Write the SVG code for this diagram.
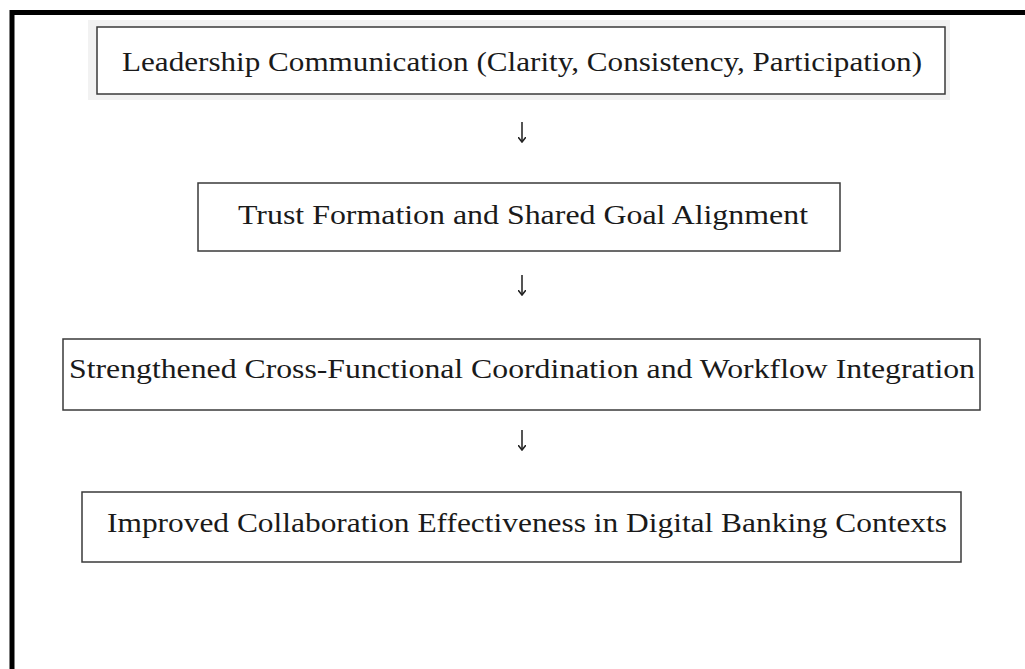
<svg xmlns="http://www.w3.org/2000/svg" width="1025" height="669" viewBox="0 0 1025 669">
<style>
.box{fill:#ffffff;stroke:#3a3a3a;stroke-width:1.5}
.lbl{font-family:"Liberation Serif","Times New Roman",serif;font-size:27px;fill:#1a1a1a}
.arr{stroke:#555555;stroke-width:2;fill:none}
</style>
<defs>
<marker id="ah" markerWidth="6" markerHeight="8" refX="5" refY="4" orient="auto" markerUnits="userSpaceOnUse" viewBox="0 0 6 8">
<path d="M0,0 L5,4 L0,8" fill="none" stroke="#222" stroke-width="1.6"/>
</marker>
</defs>
<rect x="0" y="0" width="1025" height="669" fill="#ffffff"/>
<path d="M12,669 L12,12.5 L1025,12.5" fill="none" stroke="#000000" stroke-width="5"/>
<g id="node1">
<rect x="88" y="20" width="862" height="80" fill="#f2f2f2"/>
<rect class="box" x="97" y="27" width="848" height="67"/>
<text class="lbl" x="122" y="71" textLength="800" lengthAdjust="spacingAndGlyphs">Leadership Communication (Clarity, Consistency, Participation)</text>
</g>
<g id="node2">
<rect class="box" x="198" y="183" width="642" height="68"/>
<text class="lbl" x="238" y="224" textLength="570" lengthAdjust="spacingAndGlyphs">Trust Formation and Shared Goal Alignment</text>
</g>
<g id="node3">
<rect class="box" x="63" y="339" width="917" height="71"/>
<text class="lbl" x="69" y="378" textLength="906" lengthAdjust="spacingAndGlyphs">Strengthened Cross-Functional Coordination and Workflow Integration</text>
</g>
<g id="node4">
<rect class="box" x="82" y="492" width="879" height="70"/>
<text class="lbl" x="107" y="532" textLength="840" lengthAdjust="spacingAndGlyphs">Improved Collaboration Effectiveness in Digital Banking Contexts</text>
</g>
<g id="connectors">
<line class="arr" x1="522" y1="122" x2="522" y2="142" marker-end="url(#ah)"/>
<line class="arr" x1="522" y1="275" x2="522" y2="295" marker-end="url(#ah)"/>
<line class="arr" x1="522" y1="430" x2="522" y2="450" marker-end="url(#ah)"/>
</g>
</svg>
